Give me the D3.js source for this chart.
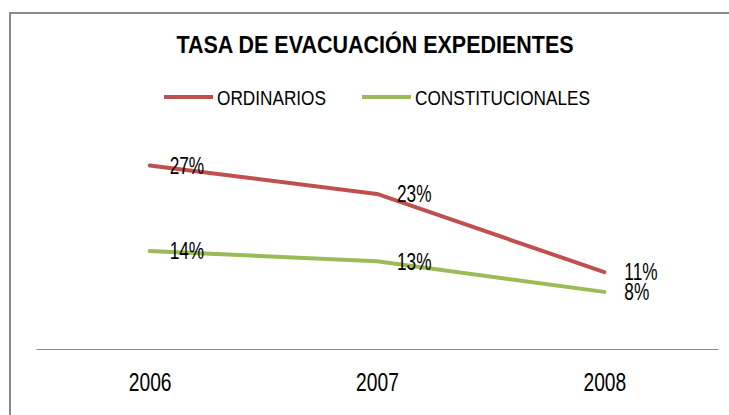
<!DOCTYPE html>
<html>
<head>
<meta charset="utf-8">
<script src="https://cdn.jsdelivr.net/npm/d3@7"></script>
<style>
  body { margin: 0; background: #fff; }
  svg { display: block; }
  text { font-family: "Liberation Sans", Arial, sans-serif; }
</style>
</head>
<body>
<div id="chart"></div>
<script>
const years = ['2006', '2007', '2008'];
const ordinarios = [27.0, 22.8, 11.3];
const constitucionales = [14.4, 12.9, 8.4];
const seriesNames = ['ORDINARIOS', 'CONSTITUCIONALES'];
const seriesColors = ['#C0504D', '#9BBB59'];
const title = 'TASA DE EVACUACIÓN EXPEDIENTES';

const width = 729;
const height = 415;

const svg = d3.select('#chart')
  .append('svg')
    .attr('width', width)
    .attr('height', height);

// chart frame (only top and left edge are visible)
svg.append('path')
  .attr('d', 'M10,415 V13 H729')
  .attr('fill', 'none')
  .attr('stroke', '#8a8a8a')
  .attr('stroke-width', 2);

svg.append('text')
  .attr('transform', 'translate(375,53) scale(1,1.12)')
  .attr('text-anchor', 'middle')
  .attr('font-weight', 'bold')
  .attr('font-size', 21.5)
  .attr('fill', '#000')
  .text(title);

// legend
const legendX = [164, 362];
const legend = svg.selectAll('g.legend')
  .data(seriesNames)
  .enter()
  .append('g')
    .attr('class', 'legend')
    .attr('transform', (d, i) => 'translate(' + legendX[i] + ',97)');

legend.append('line')
  .attr('x1', 0).attr('x2', 49)
  .attr('stroke', (d, i) => seriesColors[i])
  .attr('stroke-width', 4);

legend.append('text')
  .attr('transform', 'translate(53,0) scale(0.82,1)')
  .attr('dy', '0.36em')
  .attr('font-size', 21)
  .attr('fill', '#000')
  .text(d => d);

const x = d3.scalePoint()
  .domain(years)
  .range([36, 718])
  .padding(0.5);

const y = d3.scaleLinear()
  .domain([0, 30])
  .range([349, 145]);

const xAxis = svg.append('g')
  .attr('transform', 'translate(0,349)')
  .call(d3.axisBottom(x).tickSize(0).tickPadding(24).tickSizeOuter(0));

xAxis.select('.domain').attr('stroke', '#8a8a8a');
xAxis.selectAll('text')
  .attr('font-family', null)
  .attr('font-size', 26)
  .attr('transform', 'scale(0.74,1)')
  .attr('fill', '#000');

const series = [ordinarios, constitucionales];

const line = d3.line()
  .x((d, i) => x(years[i]))
  .y(d => y(d));

svg.selectAll('path.serie')
  .data(series)
  .enter()
  .append('path')
    .attr('class', 'serie')
    .attr('fill', 'none')
    .attr('stroke', (d, i) => seriesColors[i])
    .attr('stroke-width', 4)
    .attr('stroke-linecap', 'round')
    .attr('stroke-linejoin', 'round')
    .attr('d', line);

series.forEach((values, s) => {
  svg.selectAll('text.label-' + s)
    .data(values)
    .enter()
    .append('text')
      .attr('class', 'label-' + s)
      .attr('transform', (d, i) => 'translate(' + (x(years[i]) + 20) + ',' + y(d) + ') scale(0.75,1)')
      .attr('dy', '0.36em')
      .attr('font-size', 23)
      .attr('fill', '#000')
      .text(d => Math.round(d) + '%');
});
</script>
</body>
</html>
